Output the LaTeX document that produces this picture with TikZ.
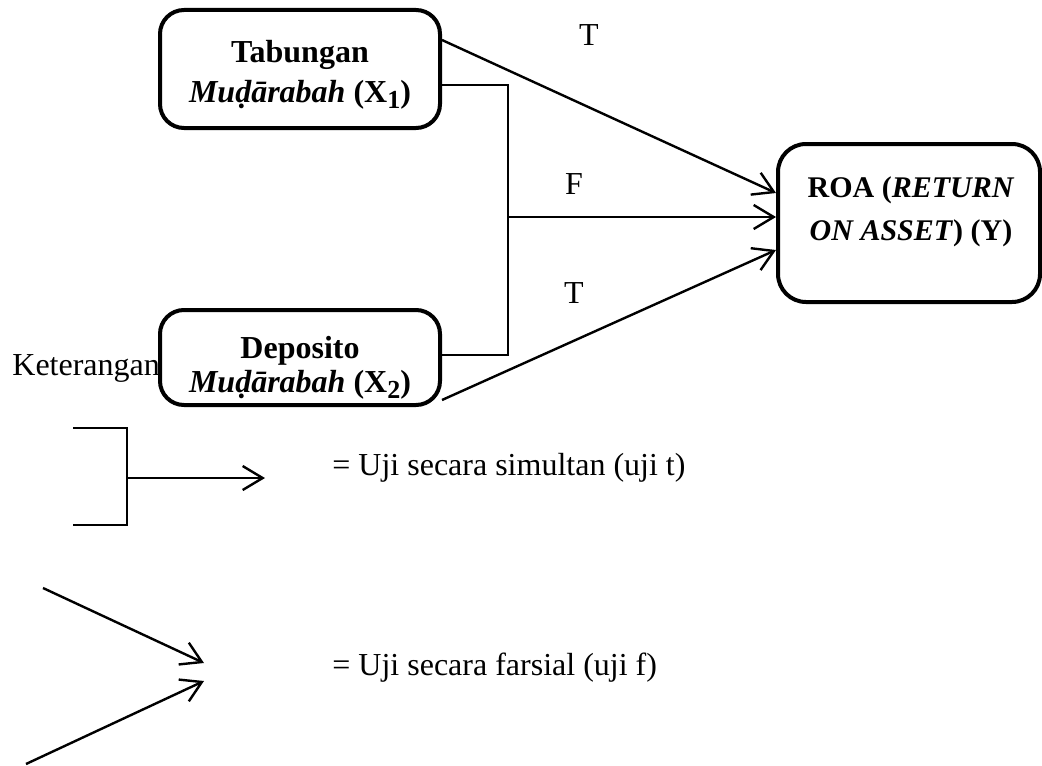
\documentclass[tikz,border=0pt]{standalone}
\usepackage{fontspec}
\setmainfont{Liberation Serif}
\usetikzlibrary{arrows.meta}
\newcommand{\subx}[1]{\raisebox{-3pt}{\fontsize{13}{13}\selectfont #1}}
\begin{document}
\begin{tikzpicture}[x=0.5pt,y=-0.5pt,
  every node/.style={font=\fontsize{16}{18.5}\selectfont},
  varbox/.style={draw,line width=2pt,rounded corners=12pt,inner sep=0pt},
  boxtext/.style={inner sep=0pt,anchor=base,font=\fontsize{16}{18.5}\selectfont\bfseries},
  roatext/.style={inner sep=0pt,anchor=base,font=\fontsize{15}{18}\selectfont\bfseries},
  conn/.style={line width=1.2pt},
  arr/.style={line width=1.2pt,-{Straight Barb[length=10pt,width=12pt,line width=1.2pt]}},
  lbl/.style={inner sep=0pt}]
\useasboundingbox (0,0) rectangle (1042,765);
% boxes
\node[varbox,minimum width=140pt,minimum height=59pt] (X1) at (300,69) {};
\node[boxtext] (X1a) at (300,62) {Tabungan};
\node[boxtext] (X1b) at (300,103) {\textit{Muḍārabah} (X\subx{1})};
\node[varbox,minimum width=140pt,minimum height=47.5pt] (X2) at (300,357.5) {};
\node[boxtext] (X2a) at (300,358) {Deposito};
\node[boxtext] (X2b) at (300,392) {\textit{Muḍārabah} (X\subx{2})};
\node[varbox,minimum width=131pt,minimum height=79pt,rounded corners=14pt] (ROA) at (909,223) {};
\node[roatext] (Ra) at (911,197) {ROA (\textit{RETURN}};
\node[roatext] (Rb) at (911,240) {\textit{ON ASSET}) (Y)};
% connectors
\coordinate (j) at (508,217);
\draw[arr] (X1.east |- 0,40) -- (ROA.west |- 0,193);
\draw[conn] (X1.east |- 0,85) -| (j);
\draw[conn] (X2.east |- 0,355) -| (j);
\draw[arr] (j) -- (ROA.west |- j);
\draw[arr] (X2.east |- 0,400) -- (ROA.west |- 0,250);
% labels
\node[lbl] (t1) at (589,35) {T};
\node[lbl] (f) at (574,184) {F};
\node[lbl] (t2) at (574,293) {T};
\node[lbl,anchor=base west] (ket) at (12,375) {Keterangan};
% legend 1
\coordinate (a1) at (73,428);
\coordinate (a2) at (73,525);
\coordinate (aj) at (127,478);
\coordinate (at) at (265,478);
\draw[conn] (a1) -| (aj) |- (a2);
\draw[arr] (aj) -- (at);
\node[lbl,anchor=base west] (l1) at (332,475) {= Uji secara simultan (uji t)};
% legend 2
\coordinate (b1) at (43,588);
\coordinate (bt1) at (204,663);
\coordinate (b2) at (26,764);
\coordinate (bt2) at (204,681);
\draw[arr] (b1) -- (bt1);
\draw[arr] (b2) -- (bt2);
\node[lbl,anchor=base west] (l2) at (332,675) {= Uji secara farsial (uji f)};
\end{tikzpicture}
\end{document}
